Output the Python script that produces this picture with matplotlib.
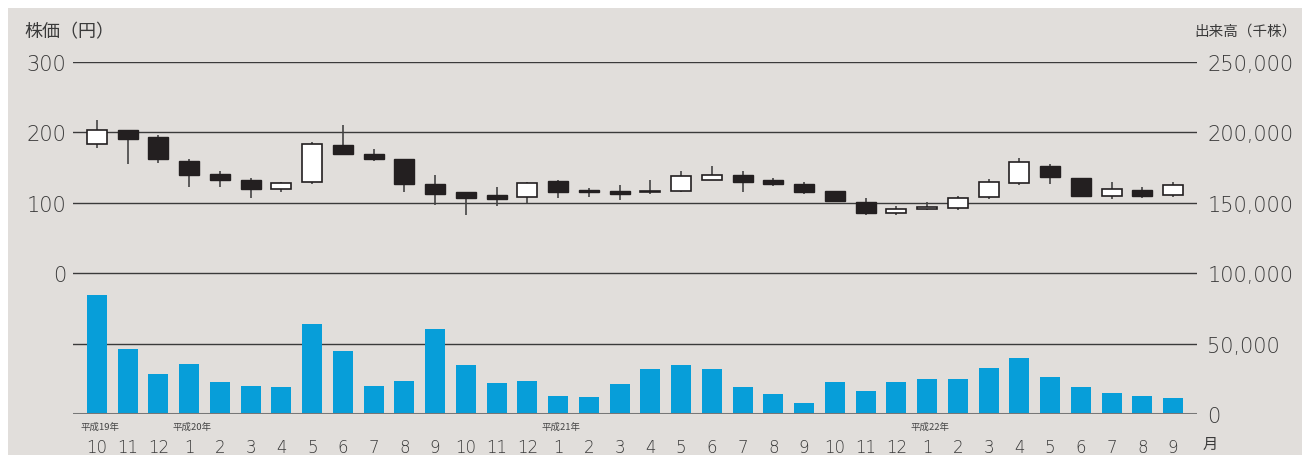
import matplotlib
matplotlib.use("Agg")
import matplotlib.pyplot as plt
from matplotlib.patches import Rectangle
import numpy as np

plt.rcParams['font.family'] = ['Noto Sans CJK JP', 'DejaVu Sans']

# 月 (平成19年10月 〜 平成22年9月)
months = [10, 11, 12, 1, 2, 3, 4, 5, 6, 7, 8, 9,
          10, 11, 12, 1, 2, 3, 4, 5, 6, 7, 8, 9,
          10, 11, 12, 1, 2, 3, 4, 5, 6, 7, 8, 9]
year_labels = {0: "平成19年", 3: "平成20年", 15: "平成21年", 27: "平成22年"}

# 株価 (円)
price_open = [183, 204, 194, 159, 141, 133, 120, 130, 182, 170, 162, 126,
              116, 111, 108, 131, 118, 117, 115, 117, 132, 139, 132, 127,
              117, 101, 86, 91, 92, 108, 128, 152, 135, 110, 118, 111]
price_close = [203, 191, 162, 139, 133, 119, 128, 184, 170, 162, 126, 112,
               107, 106, 128, 115, 116, 112, 116, 138, 140, 129, 126, 116,
               103, 86, 91, 94, 107, 129, 158, 136, 110, 119, 110, 125]
price_high = [217, 204, 196, 162, 145, 135, 129, 187, 210, 177, 162, 139,
              116, 123, 129, 132, 121, 125, 132, 145, 152, 145, 135, 129,
              117, 107, 96, 101, 110, 134, 163, 155, 135, 130, 123, 129]
price_low = [178, 155, 157, 122, 123, 107, 115, 126, 168, 159, 116, 97,
             83, 95, 100, 107, 108, 104, 113, 115, 132, 116, 124, 113,
             102, 83, 83, 90, 90, 106, 125, 126, 110, 106, 107, 108]

# 出来高 (千株)
volume = [84400, 46000, 28200, 35300, 22500, 19700, 19000, 63700, 44500, 19700, 23200, 60200,
          34600, 21800, 23200, 12600, 11800, 21100, 31800, 34600, 31800, 19000, 14000, 7600,
          22500, 16100, 22500, 24600, 24600, 32500, 39600, 26100, 19000, 14700, 12600, 11100]

bg = '#e1dedb'
txt = '#3a3a3a'
blue = '#079ed9'
dark = '#231f20'
num_font = ['DejaVu Sans']

fig = plt.figure(figsize=(13.02, 4.56), dpi=100)
fig.patches.append(Rectangle((8 / 1302, 0), 1, 1 - 9 / 456, transform=fig.transFigure,
                             facecolor=bg, edgecolor='none', zorder=-10))

ax = fig.add_axes([73 / 1302, 1 - 415 / 456, 1124 / 1302, 352 / 456])
ax.patch.set_visible(False)
axp = ax.twinx()
x = np.arange(len(months))
w = 0.65

# 出来高 (右軸)
ax.bar(x, volume, width=w, color=blue, zorder=2)
ax.set_ylim(0, 250000)
ax.set_xlim(-0.78, len(months) - 1 + 0.78)
for v in [50000, 100000, 150000, 200000, 250000]:
    ax.axhline(v, color='#3a3a3a', lw=1.0, zorder=1)
ax.axhline(0, color='#777777', lw=2.2, zorder=3)
ax.yaxis.tick_right()
ax.set_yticks([0, 50000, 100000, 150000, 200000, 250000])
ax.set_yticklabels(['0', '50,000', '100,000', '150,000', '200,000', '250,000'],
                   family=num_font, fontweight='light')
ax.tick_params(axis='y', length=0, pad=7.5, labelsize=15, labelcolor=txt)
ax.set_xticks(x)
ax.set_xticklabels([str(m) for m in months], family=num_font, fontweight='light')
ax.tick_params(axis='x', length=0, pad=17, labelsize=12, labelcolor=txt)
for s in ax.spines.values():
    s.set_visible(False)

# 株価 (左軸)
axp.set_ylim(-200, 300)
axp.yaxis.tick_left()
axp.set_yticks([0, 100, 200, 300])
axp.set_yticklabels(['0', '100', '200', '300'], family=num_font, fontweight='light')
axp.tick_params(axis='y', length=0, pad=5, labelsize=15, labelcolor=txt)
for s in axp.spines.values():
    s.set_visible(False)

for i in range(len(months)):
    o, c = price_open[i], price_close[i]
    axp.vlines(i, price_low[i], price_high[i], color='#444444', lw=1.2, zorder=3)
    lo, hi = min(o, c), max(o, c)
    h = max(hi - lo, 1.5)
    if c > o:
        axp.add_patch(Rectangle((i - w / 2, lo), w, h, facecolor='white',
                                edgecolor=dark, lw=1.2, zorder=4))
    else:
        axp.add_patch(Rectangle((i - w / 2, lo), w, h, facecolor=dark,
                                edgecolor=dark, lw=1.0, zorder=4))

# 年ラベル
for i, lab in year_labels.items():
    ax.text(i - 0.55, -0.034, lab, transform=ax.get_xaxis_transform(), ha='left', va='center',
            fontsize=6.8, color='#444444')
ax.text(len(months) - 0.05, -0.083, "月", transform=ax.get_xaxis_transform(),
        ha='left', va='center', fontsize=11, color=txt)

fig.text(24 / 1302, 1 - 32 / 456, "株価（円）", fontsize=13, color=txt, ha='left', va='center')
fig.text(1297 / 1302, 1 - 32 / 456, "出来高（千株）", fontsize=10.5, color=txt, ha='right', va='center')

fig.savefig("out.png", dpi=100, facecolor='white')
